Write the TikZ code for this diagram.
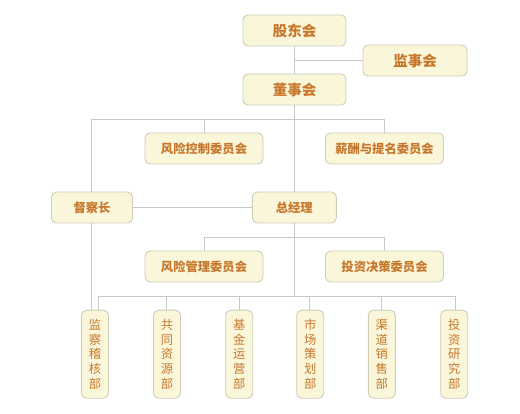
\documentclass[tikz,border=0pt]{standalone}
\usepackage{fontspec}
\newfontfamily\cjk{Noto Sans CJK SC}
\definecolor{boxfill}{HTML}{F9F6D9}
\definecolor{boxline}{HTML}{CFCCB8}
\definecolor{txt}{HTML}{C8782D}
\definecolor{conn}{HTML}{C8C8C8}
\begin{document}
\begin{tikzpicture}[x=1pt,y=-1pt,
  box/.style={draw=boxline,fill=boxfill,rounded corners=5pt,line width=0.9pt,text=txt,font=\cjk\bfseries\fontsize{12.3}{12.3}\selectfont,inner sep=0pt},
  bigbox/.style={box,font=\cjk\bfseries\fontsize{14.5}{14.5}\selectfont},
  vbox/.style={draw=boxline,fill=boxfill,rounded corners=5pt,line width=0.9pt,text=txt,font=\cjk\fontsize{12.3}{14.6}\selectfont,inner sep=0pt,align=center},
  ln/.style={draw=conn,line width=0.8pt}]
\useasboundingbox (0,0) rectangle (520,414);
% boxes
\node[bigbox,minimum width=103pt,minimum height=31pt] (gd) at (294.5,30.5) {股东会};
\node[bigbox,minimum width=104pt,minimum height=31pt] (js) at (415,60.5) {监事会};
\node[bigbox,minimum width=103pt,minimum height=31pt] (ds) at (294.5,89.5) {董事会};
\node[box,minimum width=118pt,minimum height=31pt] (fk) at (204,148.5) {风险控制委员会};
\node[box,minimum width=118pt,minimum height=31pt] (xc) at (384.5,148.5) {薪酬与提名委员会};
\node[box,minimum width=81pt,minimum height=31pt] (dc) at (92,207.5) {督察长};
\node[box,minimum width=84pt,minimum height=31pt] (zj) at (294.3,207.5) {总经理};
\node[box,minimum width=118pt,minimum height=31pt] (fg) at (204,266.5) {风险管理委员会};
\node[box,minimum width=118pt,minimum height=31pt] (tj) at (384.5,266.5) {投资决策委员会};
\foreach \n/\x/\t in {b1/95/{监\\察\\稽\\核\\部},b2/167/{共\\同\\资\\源\\部},b3/239.2/{基\\金\\运\\营\\部},b4/310.2/{市\\场\\策\\划\\部},b5/381.8/{渠\\道\\销\\售\\部},b6/454.2/{投\\资\\研\\究\\部}}
  \node[vbox,minimum width=27pt,minimum height=88pt] (\n) at (\x,354.2) {\t};
% coordinates
\coordinate (h1) at (294.3,60.5);
\coordinate (t1) at (91,119.3);
\coordinate (t2) at (204.3,119.3);
\coordinate (t3) at (384.3,119.3);
\coordinate (m1) at (294.3,119.3);
\coordinate (u1) at (204.3,237.3);
\coordinate (u2) at (384.3,237.3);
\coordinate (u0) at (294.3,237.3);
\coordinate (w1) at (98.3,296.3);
\coordinate (w2) at (166.3,296.3);
\coordinate (w3) at (239.3,296.3);
\coordinate (w4) at (309.3,296.3);
\coordinate (w5) at (381.3,296.3);
\coordinate (w6) at (455.7,296.3);
\coordinate (w0) at (294.3,296.3);
% connectors
\draw[ln] (gd.south -| h1) -- (ds.north -| h1);
\draw[ln] (h1) -- (js.west);
\draw[ln] (ds.south -| m1) -- (zj.north -| m1);
\draw[ln] (t1) -- (t3);
\draw[ln] (t1) -- (dc.north -| t1);
\draw[ln] (t2) -- (fk.north -| t2);
\draw[ln] (t3) -- (xc.north -| t3);
\draw[ln] (dc.east) -- (zj.west);
\draw[ln] (zj.south -| u0) -- (w0);
\draw[ln] (u1) -- (u2);
\draw[ln] (u1) -- (fg.north -| u1);
\draw[ln] (u2) -- (tj.north -| u2);
\draw[ln] (dc.south -| t1) -- (b1.north -| t1);
\draw[ln] (w1) -- (w6);
\foreach \i in {1,...,6} \draw[ln] (w\i) -- (b\i.north -| w\i);
\end{tikzpicture}
\end{document}
